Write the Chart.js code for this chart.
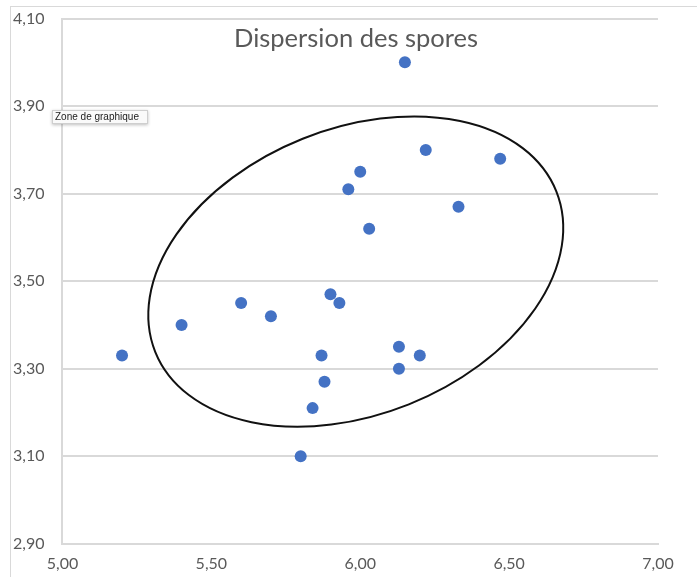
<!DOCTYPE html>
<html>
<head>
<meta charset="utf-8">
<script src="https://cdn.jsdelivr.net/npm/chart.js@4"></script>
<style>
  body { margin: 0; background: #fff; }
  #wrap { width: 697px; height: 577px; position: relative; }
</style>
</head>
<body>
<div id="wrap"><canvas id="sporesChart"></canvas></div>
<script>
// data
let sporeX = [5.20, 5.40, 5.60, 5.70, 5.80, 5.84, 5.87, 5.88, 5.90, 5.93, 5.96, 6.00, 6.03, 6.13, 6.13, 6.15, 6.20, 6.22, 6.33, 6.47];
let sporeY = [3.33, 3.40, 3.45, 3.42, 3.10, 3.21, 3.33, 3.27, 3.47, 3.45, 3.71, 3.75, 3.62, 3.35, 3.30, 4.00, 3.33, 3.80, 3.67, 3.78];
let xTicks = [5.00, 5.50, 6.00, 6.50, 7.00];
let yTicks = [2.90, 3.10, 3.30, 3.50, 3.70, 3.90, 4.10];
let chartTitle = "Dispersion des spores";
let hintText = "Zone de graphique";

let points = sporeX.map(function (x, i) {
    return { x: x, y: sporeY[i] };
});

function frNum(v) {
    return v.toFixed(2).replace('.', ',');
}

// frame, title, ellipse and the little excel hint box
let extras = {
    id: 'extras',
    beforeDraw: function (chart) {
        let ctx = chart.ctx;
        ctx.save();
        ctx.strokeStyle = '#d9d9d9';
        ctx.lineWidth = 1;
        ctx.strokeRect(10.5, 6.5, 800, 800);
        ctx.restore();
    },
    afterDatasetsDraw: function (chart) {
        let ctx = chart.ctx;
        let xs = chart.scales.x;
        let ys = chart.scales.y;
        ctx.save();
        // hand drawn ellipse round the cloud
        let cx = xs.getPixelForValue(5.985);
        let cy = ys.getPixelForValue(3.522);
        ctx.beginPath();
        ctx.ellipse(cx, cy, 216, 143, -21.8 * Math.PI / 180, 0, Math.PI * 2);
        ctx.strokeStyle = '#111';
        ctx.lineWidth = 2;
        ctx.stroke();

        // title
        ctx.fillStyle = '#595959';
        ctx.font = '25.5px Lato';
        ctx.textAlign = 'center';
        ctx.textBaseline = 'middle';
        ctx.fillText(chartTitle, 356, 39);

        // hint box
        ctx.shadowColor = 'rgba(0,0,0,0.25)';
        ctx.shadowBlur = 3;
        ctx.shadowOffsetY = 1;
        ctx.fillStyle = '#fafafa';
        ctx.fillRect(52, 110, 96, 14);
        ctx.shadowColor = 'transparent';
        ctx.strokeStyle = '#cfcfcf';
        ctx.lineWidth = 1;
        ctx.strokeRect(52.5, 110.5, 95, 13);
        ctx.fillStyle = '#222';
        ctx.font = '10px "Liberation Sans"';
        ctx.textAlign = 'left';
        ctx.fillText(hintText, 55, 117.5);
        ctx.restore();
    }
};

let sporesCtx = document.getElementById('sporesChart');
let sporesChart = new Chart(sporesCtx, {
    type: 'scatter',
    data: {
        datasets: [{
            label: chartTitle,
            data: points,
            backgroundColor: '#4472C4',
            borderWidth: 0,
            pointRadius: 6,
            pointHoverRadius: 6
        }]
    },
    options: {
        responsive: true,
        maintainAspectRatio: false,
        animation: false,
        events: [],
        layout: {
            padding: { left: 13, right: 39, top: 7, bottom: -6 }
        },
        plugins: {
            legend: { display: false },
            title: { display: false },
            tooltip: { enabled: false }
        },
        scales: {
            x: {
                type: 'linear',
                min: 5,
                max: 7,
                afterBuildTicks: function (axis) {
                    axis.ticks = xTicks.map(v => ({ value: v }));
                },
                grid: { display: false, drawTicks: false },
                border: { display: true, color: '#d9d9d9', width: 2 },
                ticks: {
                    padding: 10,
                    color: '#595959',
                    font: { family: 'Lato', size: 16 },
                    maxRotation: 0,
                    callback: function (v) { return frNum(v); }
                }
            },
            y: {
                type: 'linear',
                min: 2.9,
                max: 4.1,
                afterBuildTicks: function (axis) {
                    axis.ticks = yTicks.map(v => ({ value: v }));
                },
                grid: { color: '#d9d9d9', lineWidth: 2, drawTicks: false },
                border: { display: true, color: '#d9d9d9', width: 2 },
                ticks: {
                    padding: 9,
                    color: '#595959',
                    font: { family: 'Lato', size: 16 },
                    crossAlign: 'far',
                    callback: function (v) { return frNum(v); }
                }
            }
        }
    },
    plugins: [extras]
});
</script>
</body>
</html>
